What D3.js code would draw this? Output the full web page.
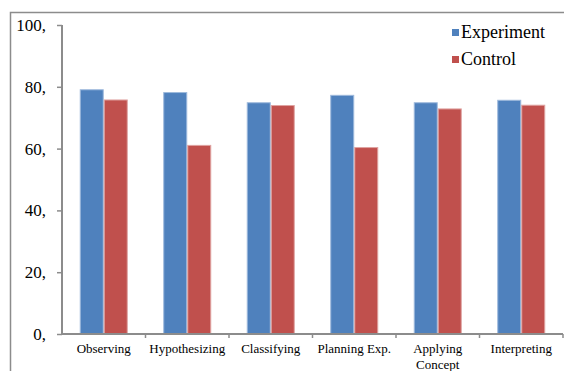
<!DOCTYPE html>
<html>
<head>
<meta charset="utf-8">
<script src="https://cdn.jsdelivr.net/npm/d3@7"></script>
<style>
  html, body { margin: 0; padding: 0; background: #fff; }
  svg { display: block; }
  text { font-family: "Liberation Serif", "Times New Roman", serif; fill: #000; }
</style>
</head>
<body>
<script>
// Skill scores per group
const categories = ["Observing", "Hypothesizing", "Classifying", "Planning Exp.", "Applying Concept", "Interpreting"];
const experiment = [79.2, 78.3, 75.0, 77.4, 75.0, 75.8];
const control = [75.9, 61.2, 74.1, 60.5, 73.0, 74.2];
const seriesNames = ["Experiment", "Control"];
const yTicks = [0, 20, 40, 60, 80, 100];
const yTickLabels = ["0,", "20,", "40,", "60,", "80,", "100,"];

const W = 564, H = 371;
const colors = ["#4F81BD", "#C0504D"];
const edges = ["#9DB9DC", "#DFA3A1"];

const svg = d3.select("body").append("svg").attr("width", W).attr("height", H);

// Outer chart frame (left and top edges)
svg.append("path")
  .attr("d", `M10.5,${H} V12.5 H${W}`)
  .attr("fill", "none").attr("stroke", "#8c8c8c").attr("stroke-width", 1.5);

const x0 = d3.scaleBand().domain(categories).range([62, 563]).paddingInner(0.425).paddingOuter(0.2125);
const x1 = d3.scaleBand().domain(seriesNames).range([0, x0.bandwidth()]);
const y = d3.scaleLinear().domain([0, 100]).range([334, 25]);

const rows = categories.map((c, i) => ({ cat: c, vals: [experiment[i], control[i]] }));

const groups = svg.append("g").selectAll("g").data(rows).join("g")
  .attr("transform", d => `translate(${x0(d.cat)},0)`);

groups.selectAll("rect").data(d => d.vals.map((v, j) => ({ v, j }))).join("rect")
  .attr("x", d => x1(seriesNames[d.j]) + 0.5)
  .attr("width", x1.bandwidth() - 1)
  .attr("y", d => y(d.v) + 0.5)
  .attr("height", d => y(0) - y(d.v) - 0.5)
  .attr("fill", d => colors[d.j])
  .attr("stroke", d => edges[d.j])
  .attr("stroke-width", 1);

// Y axis
const yAxis = svg.append("g").attr("transform", "translate(62,0)")
  .call(d3.axisLeft(y).tickValues(yTicks).tickSize(5).tickPadding(10)
    .tickFormat((d, i) => yTickLabels[i]));
yAxis.select(".domain").attr("stroke", "#8c8c8c").attr("stroke-width", 2).attr("d", "M0,25V334");
yAxis.selectAll(".tick line").attr("stroke", "#8c8c8c").attr("stroke-width", 1.5);
yAxis.selectAll(".tick text").style("font-size", "17px").attr("x", -16);

// X axis
const xAxis = svg.append("g").attr("transform", "translate(0,334)")
  .call(d3.axisBottom(x0).tickSize(0).tickFormat(""));
xAxis.select(".domain").attr("stroke", "#8c8c8c").attr("stroke-width", 2).attr("d", "M62,0H563");
xAxis.selectAll(".tick").remove();
// Tick marks between categories
const step = x0.step();
const bounds = d3.range(1, categories.length + 1).map(i => 62 + i * step);
xAxis.selectAll("line.sep").data(bounds).join("line").attr("class", "sep")
  .attr("x1", d => d).attr("x2", d => d).attr("y1", 0).attr("y2", 4)
  .attr("stroke", "#8c8c8c").attr("stroke-width", 1.5);

// Category labels (wrapped where long)
const wrap = { "Applying Concept": ["Applying", "Concept"] };
const labels = svg.append("g").selectAll("text").data(categories).join("text")
  .attr("text-anchor", "middle")
  .attr("x", d => x0(d) + x0.bandwidth() / 2)
  .attr("y", 353)
  .style("font-size", "13px");
labels.each(function(d) {
  const lines = wrap[d] || [d];
  const t = d3.select(this);
  lines.forEach((ln, k) => {
    t.append("tspan").attr("x", x0(d) + x0.bandwidth() / 2).attr("dy", k === 0 ? 0 : 16).text(ln);
  });
});

// Legend
const legend = svg.append("g").selectAll("g").data(seriesNames).join("g")
  .attr("transform", (d, i) => `translate(452,${29 + i * 27})`);
legend.append("rect").attr("width", 7).attr("height", 7).attr("fill", (d, i) => colors[i]);
legend.append("text").attr("x", 9).attr("y", 8.5).style("font-size", "18px").text(d => d);
</script>
</body>
</html>
